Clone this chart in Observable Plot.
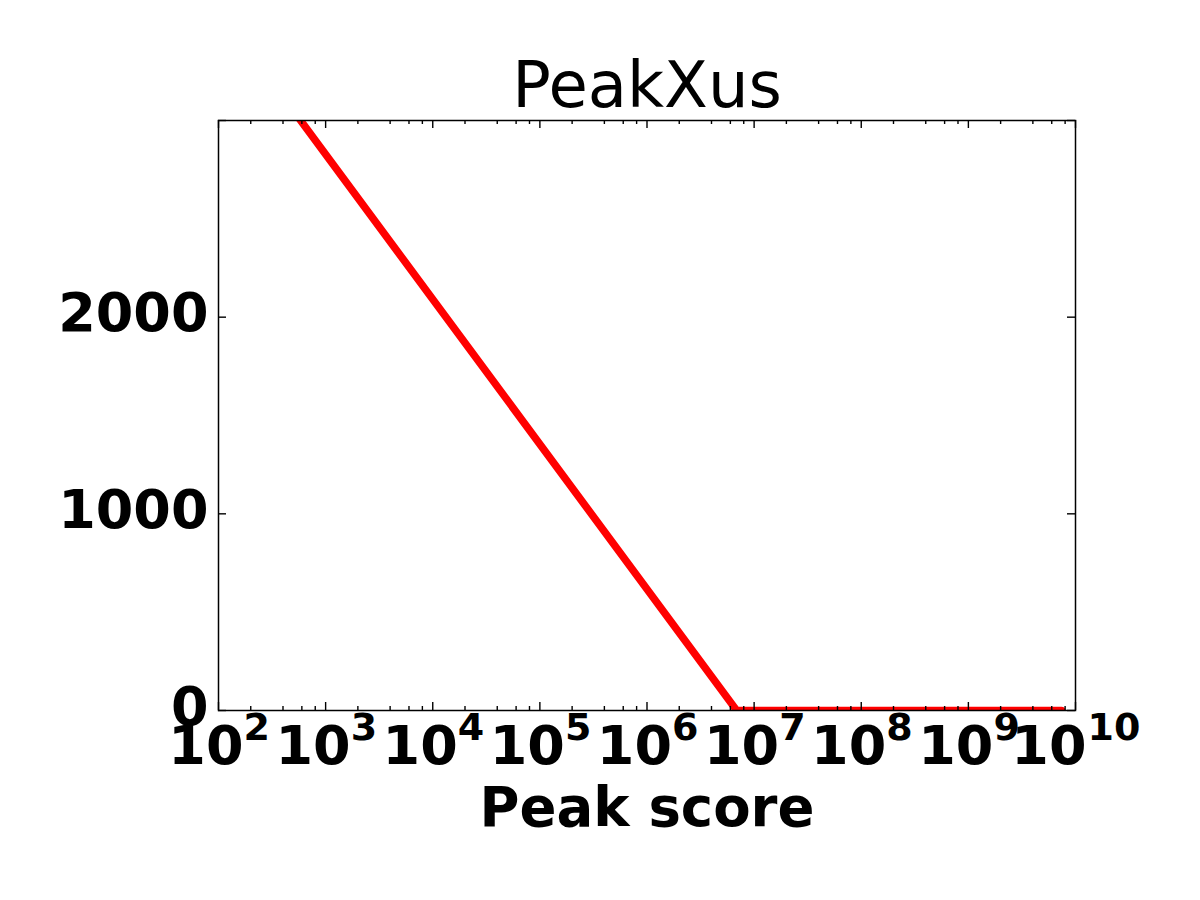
<!DOCTYPE html>
<html>
<head>
<meta charset="utf-8">
<script src="https://cdn.jsdelivr.net/npm/d3@7"></script>
<script src="https://cdn.jsdelivr.net/npm/@observablehq/plot@0.6"></script>
<style>
  html, body { margin: 0; padding: 0; background: #fff; }
  svg { display: block; }
</style>
</head>
<body>
<div id="chart"></div>
<script>
// Data
const peakScore = [100, 6.87e6, 7.4e9];
const peakCount = [3565, 0, 0];

// Axis definitions
const xDomain = [1e2, 1e10];
const yDomain = [0, 3000];
const xExponents = [2, 3, 4, 5, 6, 7, 8, 9, 10];
const xMinorSubs = [2, 4, 6, 8];
const yTicks = [0, 1000, 2000, 3000];
const yLabelTicks = [0, 1000, 2000];
const titleText = "PeakXus";
const xLabelText = "Peak score";

const W = 1200, H = 900;
const mL = 218, mR = 125, mT = 120, mB = 190;
const plotW = W - mL - mR, plotH = H - mT - mB;
const majorLen = 8, minorLen = 4;
const FONT = "DejaVu Sans";

const lineData = peakScore.map((x, i) => ({x, y: peakCount[i]}));
const majorX = xExponents.map(e => 10 ** e);
const minorX = xExponents.slice(0, -1).flatMap(e => xMinorSubs.map(s => s * 10 ** e));
const singleExp = xExponents.filter(e => e < 10);
const doubleExp = xExponents.filter(e => e >= 10);

const tickStyle = {stroke: "black", strokeWidth: 1.4};

const chart = Plot.plot({
  width: W,
  height: H,
  marginLeft: mL,
  marginRight: mR,
  marginTop: mT,
  marginBottom: mB,
  style: {fontFamily: FONT, background: "white"},
  x: {type: "log", domain: xDomain, axis: null},
  y: {type: "linear", domain: yDomain, axis: null},
  marks: [
    Plot.line(lineData, {x: "x", y: "y", stroke: "#ff0000", strokeWidth: 7.5, clip: true}),
    // x ticks (inward, bottom & top)
    Plot.ruleX(majorX, {x: d => d, insetTop: plotH - majorLen, ...tickStyle}),
    Plot.ruleX(majorX, {x: d => d, insetBottom: plotH - majorLen, ...tickStyle}),
    Plot.ruleX(minorX, {x: d => d, insetTop: plotH - minorLen, ...tickStyle}),
    Plot.ruleX(minorX, {x: d => d, insetBottom: plotH - minorLen, ...tickStyle}),
    // y ticks (inward, left & right)
    Plot.ruleY(yTicks, {y: d => d, insetRight: plotW - majorLen, ...tickStyle}),
    Plot.ruleY(yTicks, {y: d => d, insetLeft: plotW - majorLen, ...tickStyle}),
    Plot.frame({stroke: "black", strokeWidth: 1.5}),
    // y tick labels
    Plot.text(yLabelTicks, {
      y: d => d, frameAnchor: "left", textAnchor: "end", dx: -10, dy: -3,
      text: d => String(d), fontSize: 54, fontWeight: "bold", fill: "black"
    }),
    // x tick labels: base "10" + superscript exponent
    Plot.text(singleExp, {
      x: e => 10 ** e, frameAnchor: "bottom", lineAnchor: "bottom", textAnchor: "end",
      dx: 25, dy: 53, text: () => "10", fontSize: 54, fontWeight: "bold", fill: "black"
    }),
    Plot.text(singleExp, {
      x: e => 10 ** e, frameAnchor: "bottom", lineAnchor: "bottom", textAnchor: "start",
      dx: 25, dy: 29, text: e => String(e), fontSize: 38, fontWeight: "bold", fill: "black"
    }),
    Plot.text(doubleExp, {
      x: e => 10 ** e, frameAnchor: "bottom", lineAnchor: "bottom", textAnchor: "end",
      dx: 11, dy: 53, text: () => "10", fontSize: 54, fontWeight: "bold", fill: "black"
    }),
    Plot.text(doubleExp, {
      x: e => 10 ** e, frameAnchor: "bottom", lineAnchor: "bottom", textAnchor: "start",
      dx: 12, dy: 29, text: e => String(e), fontSize: 38, fontWeight: "bold", fill: "black"
    }),
    // x axis label
    Plot.text([xLabelText], {
      frameAnchor: "bottom", lineAnchor: "bottom", textAnchor: "middle", dy: 115,
      text: d => d, fontSize: 54.5, fontWeight: "bold", fill: "black"
    }),
    // title
    Plot.text([titleText], {
      frameAnchor: "top", lineAnchor: "bottom", textAnchor: "middle", dy: -14,
      text: d => d, fontSize: 64, fontWeight: "normal", fill: "black"
    })
  ]
});

document.getElementById("chart").appendChild(chart);
</script>
</body>
</html>
